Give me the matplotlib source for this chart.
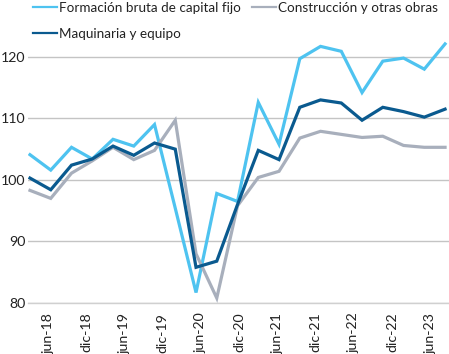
import matplotlib
matplotlib.use("Agg")
import matplotlib.pyplot as plt
import numpy as np
from matplotlib.lines import Line2D

quarters = ["jun-18", "sep-18", "dic-18", "mar-19", "jun-19", "sep-19", "dic-19",
            "mar-20", "jun-20", "sep-20", "dic-20", "mar-21", "jun-21", "sep-21",
            "dic-21", "mar-22", "jun-22", "sep-22", "dic-22", "mar-23", "jun-23"]
fbcf = [104.1, 101.6, 105.3, 103.4, 106.6, 105.5, 109.0, 95.4, 81.7, 97.8, 96.5,
        112.6, 105.8, 119.7, 121.7, 120.9, 114.2, 119.3, 119.8, 118.0, 122.1]
construccion = [98.3, 97.0, 101.1, 103.1, 105.3, 103.3, 104.8, 109.7, 88.0, 80.8, 95.8,
                100.4, 101.4, 106.8, 107.9, 107.4, 106.9, 107.1, 105.6, 105.3, 105.3]
maquinaria = [100.3, 98.4, 102.4, 103.4, 105.5, 104.0, 106.0, 105.0, 85.8, 86.8, 96.0,
              104.8, 103.3, 111.8, 113.0, 112.5, 109.7, 111.8, 111.1, 110.2, 111.5]
tick_labels = ["jun-18", "dic-18", "jun-19", "dic-19", "jun-20", "dic-20",
               "jun-21", "dic-21", "jun-22", "dic-22", "jun-23"]
yticks = [80, 90, 100, 110, 120]

c_light = "#4EC3F0"
c_dark = "#0A5A8F"
c_gray = "#A8AFBC"

plt.rcParams['font.family'] = ['Lato', 'DejaVu Sans']
FS = 9.7

W, H = 449, 354
fig = plt.figure(figsize=(W / 100, H / 100), dpi=100)
left, right, bottom, top = 28, 449, 303, 23
ax = fig.add_axes([left / W, 1 - bottom / H, (right - left) / W, (bottom - top) / H])

x = np.arange(len(quarters))
ax.plot(x, fbcf, color=c_light, lw=2.3, solid_joinstyle='miter', zorder=3)
ax.plot(x, construccion, color=c_gray, lw=2.3, solid_joinstyle='miter', zorder=3)
ax.plot(x, maquinaria, color=c_dark, lw=2.3, solid_joinstyle='miter', zorder=4)

ax.set_xlim(-0.096, 20.19)
ax.set_ylim(80, 125.5)
ax.set_yticks(yticks)
ax.set_yticklabels([str(v) for v in yticks], fontsize=FS + 0.5, color="#222222")
ax.set_xticks(np.linspace(0.87, 19.28, len(tick_labels)))
ax.set_xticklabels(tick_labels, rotation=90, fontsize=FS + 0.5, color="#222222")
ax.tick_params(length=0)
ax.tick_params(axis='y', pad=2)
ax.tick_params(axis='x', pad=7)
for s in ["top", "right", "left"]:
    ax.spines[s].set_visible(False)
ax.spines["bottom"].set_color("#D0D0D0")
ax.spines["bottom"].set_linewidth(1.0)
ax.grid(axis='y', color="#C4C4C4", lw=1.0)
ax.set_axisbelow(True)

h1 = Line2D([], [], color=c_light, lw=1.6)
h2 = Line2D([], [], color=c_gray, lw=1.6)
h3 = Line2D([], [], color=c_dark, lw=1.6)
leg = fig.legend([h1, h3, h2],
                 ["Formación bruta de capital fijo", "Maquinaria y equipo",
                  "Construcción y otras obras"],
                 ncol=2, loc='upper left', bbox_to_anchor=(33 / W, 1 - 2 / H),
                 frameon=False, fontsize=FS, handlelength=1.8, handletextpad=0.1,
                 columnspacing=0.85, labelspacing=1.05, borderpad=0, borderaxespad=0)
for t in leg.get_texts():
    t.set_color("#222222")

fig.savefig("out.png", dpi=100)
